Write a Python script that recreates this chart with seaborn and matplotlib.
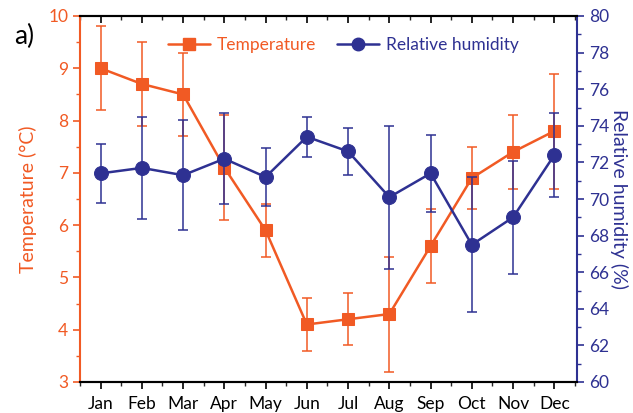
import matplotlib
matplotlib.use("Agg")
import matplotlib.pyplot as plt
import seaborn as sns
import pandas as pd
import numpy as np
from matplotlib.ticker import MultipleLocator
from matplotlib.lines import Line2D

months = ["Jan", "Feb", "Mar", "Apr", "May", "Jun", "Jul", "Aug", "Sep", "Oct", "Nov", "Dec"]
temp = [9.0, 8.7, 8.5, 7.1, 5.9, 4.1, 4.2, 4.3, 5.6, 6.9, 7.4, 7.8]
temp_err = [0.8, 0.8, 0.8, 1.0, 0.5, 0.5, 0.5, 1.1, 0.7, 0.6, 0.7, 1.1]
rh = [71.4, 71.7, 71.3, 72.2, 71.2, 73.4, 72.6, 70.1, 71.4, 67.5, 69.0, 72.4]
rh_err = [1.6, 2.8, 3.0, 2.5, 1.6, 1.1, 1.3, 3.9, 2.1, 3.7, 3.1, 2.3]

ORANGE = "#F15A24"
BLUE = "#2E3192"

sns.set_style("ticks")
plt.rcParams["font.family"] = ["Lato", "DejaVu Sans"]

df = pd.DataFrame({"x": np.arange(len(months)), "month": months,
                   "temp": temp, "temp_err": temp_err, "rh": rh, "rh_err": rh_err})

fig = plt.figure(figsize=(6.33, 4.13), dpi=100)
ax = fig.add_axes([80/633, 1-382/413, (577-80)/633, (382-16)/413])
ax2 = ax.twinx()

ax.errorbar(df["x"], df["temp"], yerr=df["temp_err"], fmt="none", ecolor=ORANGE,
            elinewidth=1.1, capsize=3.5, capthick=1.1, zorder=2)
sns.lineplot(data=df, x="x", y="temp", ax=ax, color=ORANGE, marker="s",
             markersize=8.5, markeredgecolor=ORANGE, linewidth=1.8, zorder=3)

ax2.errorbar(df["x"], df["rh"], yerr=df["rh_err"], fmt="none", ecolor=BLUE,
             elinewidth=1.1, capsize=3.5, capthick=1.1, zorder=2)
sns.lineplot(data=df, x="x", y="rh", ax=ax2, color=BLUE, marker="o",
             markersize=10, markeredgecolor=BLUE, linewidth=1.8, zorder=3)

ax.set_xlim(-0.5, 11.55)
ax.set_ylim(3, 10)
ax2.set_ylim(60, 80)

ax.set_xticks(df["x"])
ax.set_xticklabels(months)
ax.xaxis.set_minor_locator(MultipleLocator(0.5))
ax.yaxis.set_major_locator(MultipleLocator(1))
ax.yaxis.set_minor_locator(MultipleLocator(0.5))
ax2.yaxis.set_major_locator(MultipleLocator(2))
ax2.yaxis.set_minor_locator(MultipleLocator(1))

ax.set_xlabel("")
ax.set_ylabel("Temperature (°C)", color=ORANGE, fontsize=14, labelpad=8)
ax2.set_ylabel("Relative humidity (%)", color=BLUE, fontsize=14, rotation=270, labelpad=14)

for a in (ax, ax2):
    for s in ["top", "bottom"]:
        a.spines[s].set_color("black")
        a.spines[s].set_linewidth(1.5)
        a.spines[s].set_visible(True)
ax.spines["left"].set_color(ORANGE)
ax.spines["left"].set_linewidth(1.5)
ax2.spines["right"].set_color(BLUE)
ax2.spines["right"].set_linewidth(1.5)
ax2.spines["left"].set_visible(False)
ax.spines["right"].set_visible(False)

ax.tick_params(axis="x", which="major", direction="out", length=5, width=1.2,
               labelsize=12.5, color="black", labelcolor="black", top=True, pad=5)
ax.tick_params(axis="x", which="minor", direction="out", length=3, width=1.0, top=True)
for t in ax.xaxis.get_major_ticks():
    t.tick2line.set_marker(matplotlib.lines.TICKDOWN)
for t in ax.xaxis.get_minor_ticks():
    t.tick2line.set_marker(matplotlib.lines.TICKDOWN)

ax.tick_params(axis="y", which="major", direction="out", length=5, width=1.2,
               labelsize=12.5, color=ORANGE, labelcolor=ORANGE)
ax.tick_params(axis="y", which="minor", direction="out", length=3, width=1.0, color=ORANGE)
ax2.tick_params(axis="y", which="major", direction="out", length=5, width=1.2,
                labelsize=12.5, color=BLUE, labelcolor=BLUE)
ax2.tick_params(axis="y", which="minor", direction="out", length=3, width=1.0, color=BLUE)

handles = [Line2D([], [], color=ORANGE, marker="s", markersize=8, linewidth=1.8),
           Line2D([], [], color=BLUE, marker="o", markersize=9, linewidth=1.8)]
leg = ax2.legend(handles, ["Temperature", "Relative humidity"], loc="upper center",
                 bbox_to_anchor=(0.53, 0.985), ncol=2, frameon=False, fontsize=12.5,
                 handlelength=2.4, columnspacing=1.2, handletextpad=0.4)
for txt, c in zip(leg.get_texts(), [ORANGE, BLUE]):
    txt.set_color(c)

fig.text(14/633, 1-36/413, "a)", fontsize=19, color="black", va="center", ha="left")

fig.savefig("out.png", dpi=100)
